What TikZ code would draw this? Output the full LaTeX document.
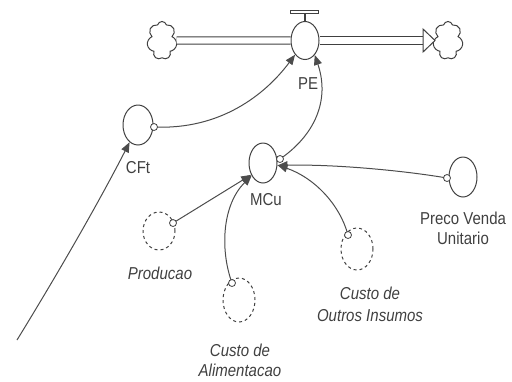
\documentclass[tikz,border=0pt]{standalone}
\usepackage{fontspec}
\setmainfont{Liberation Sans}
\usetikzlibrary{shapes.geometric,shapes.symbols,arrows.meta}
\newcommand{\sy}[1]{\scalebox{1}[1.15]{#1}}
\begin{document}
\begin{tikzpicture}[x=0.5pt,y=-0.5pt,
 lvl/.style={ellipse,draw=black!75,line width=0.5pt,inner sep=0pt,minimum width=14pt,minimum height=20pt},
 shadowvar/.style={lvl,dash pattern=on 1.5pt off 1.5pt},
 tail/.style={circle,draw=black!75,fill=white,inner sep=0pt,minimum size=3.5pt,line width=0.4pt},
 conn/.style={draw=black!70,line width=0.5pt,-{Triangle[length=5pt,width=4pt]}},
 lab/.style={text=black!75,font=\fontsize{7.5}{9}\selectfont,inner sep=0pt},
 ilab/.style={lab,font=\fontsize{7.5}{9}\selectfont\itshape},
 cld/.style={cloud,cloud puffs=7,draw=black!75,line width=0.5pt,minimum width=15pt,minimum height=19pt,inner sep=0pt,aspect=0.8},
 pipe/.style={draw=black!75,line width=0.5pt,double=white,double distance=3.2pt}]
\useasboundingbox (0,0) rectangle (512,381);
% stock-flow
\node[cld] (cL) at (162,40.5) {};
\node[cld] (cR) at (448,40.5) {};
\node[lvl,minimum width=14pt,minimum height=19pt] (PE) at (305,40.5) {};
\coordinate (ab) at (423,40.5);
\draw[pipe] (cL) -- (PE);
\draw[pipe] (PE) -- (ab);
\draw[draw=black!75,fill=white,line width=0.5pt] (423,29) -- (435,40.5) -- (423,52) -- cycle;
\draw[draw=black!75,line width=0.6pt] (PE.north) -- (305,13);
\draw[draw=black!75,line width=0.5pt,fill=white] (290,10) rectangle (318,13.5);
\node[lab] (lPE) at (308,84) {\sy{PE}};
% variables
\node[lvl,minimum width=15pt,minimum height=20pt] (CFt) at (138,125) {};
\node[lab] (lCFt) at (138,168) {\sy{CFt}};
\node[lvl,minimum width=14pt,minimum height=20pt] (MCu) at (263,163) {};
\node[lab] (lMCu) at (266,200) {\sy{MCu}};
\node[lvl,minimum width=14pt,minimum height=20pt] (PV) at (463,177) {};
\node[lab] (lPV1) at (463,218) {\sy{Preco Venda}};
\node[lab] (lPV2) at (463,238) {\sy{Unitario}};
\node[shadowvar,minimum width=16pt,minimum height=19pt] (Pr) at (159,231) {};
\node[ilab] (lPr) at (160,273) {\sy{Producao}};
\node[shadowvar,minimum width=16pt,minimum height=22pt] (CA) at (239,300) {};
\node[ilab] (lCA1) at (240,350) {\sy{Custo de}};
\node[ilab] (lCA2) at (240,370) {\sy{Alimentacao}};
\node[shadowvar,minimum width=16pt,minimum height=21pt] (CO) at (357,249) {};
\node[ilab] (lCO1) at (370,293) {\sy{Custo de}};
\node[ilab] (lCO2) at (370,316) {\sy{Outros Insumos}};
% connectors
\coordinate (ext) at (17,340);
\draw[conn] (ext) .. controls (60,270) and (100,200) .. (CFt.244);
\draw[conn] (154,127) .. controls (220,130) and (265,95) .. (PE.235);
\draw[conn] (280,159) .. controls (315,135) and (330,100) .. (PE.304);
\draw[conn] (173,223) -- (MCu.225);
\draw[conn] (232,283) .. controls (220,250) and (222,205) .. (MCu.228);
\draw[conn] (348,235) .. controls (340,205) and (315,178) .. (MCu.352);
\draw[conn] (447,178) .. controls (400,170) and (330,164) .. (MCu.350);
% tails
\node[tail] (tCFt) at (154,127) {};
\node[tail] (tMCu) at (280,159) {};
\node[tail] (tPr) at (173,223) {};
\node[tail] (tCA) at (232,283) {};
\node[tail] (tCO) at (348,235) {};
\node[tail] (tPV) at (447,178) {};
\end{tikzpicture}
\end{document}
